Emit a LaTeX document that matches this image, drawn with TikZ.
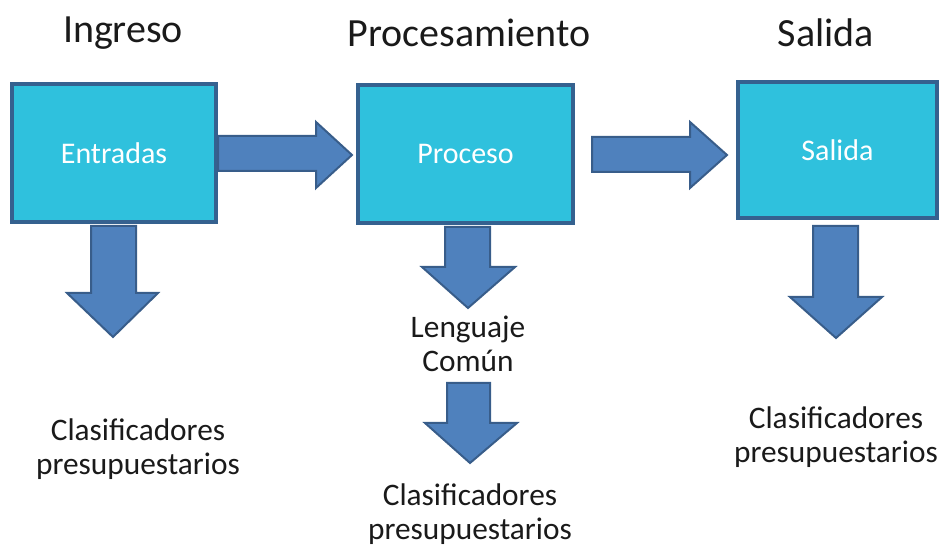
\documentclass[tikz,border=0pt]{standalone}
\usepackage{fontspec}
\setmainfont{Carlito}
\definecolor{boxfill}{HTML}{2FC1DD}
\definecolor{boxline}{HTML}{35618F}
\definecolor{arrfill}{HTML}{4F81BD}
\definecolor{arrline}{HTML}{385D8A}
\definecolor{txt}{HTML}{1A1A1A}
\tikzset{
  procbox/.style={draw=boxline, line width=2.4pt, fill=boxfill, text=white,
    font=\fontsize{22.5}{27}\selectfont, inner sep=0pt, anchor=center},
  blockarrow/.style={draw=arrline, line width=1.5pt, fill=arrfill, line join=miter},
  title/.style={font=\fontsize{30}{36}\selectfont, text=txt, anchor=center},
  label/.style={font=\fontsize{23.5}{25}\selectfont, text=txt, align=center, anchor=center}
}
\begin{document}
\begin{tikzpicture}[x=0.75pt, y=-0.75pt]
\useasboundingbox (0,0) rectangle (940,548);
% titles
\node[title] (t1) at (123,33) {Ingreso};
\node[title] (t2) at (469,33) {Procesamiento};
\node[title] (t3) at (826,33) {Salida};
% boxes
\node[procbox, minimum width=204*0.75pt, minimum height=138*0.75pt] (entradas) at (114,153) {Entradas};
\node[procbox, minimum width=215*0.75pt, minimum height=138*0.75pt] (proceso) at (465.5,154) {Proceso};
\node[procbox, minimum width=199*0.75pt, minimum height=136*0.75pt] (salida) at (837.5,150) {Salida};
% right arrows
\draw[blockarrow] (218,136) -- (316,136) -- (316,122) -- (352,155) -- (316,188) -- (316,171) -- (218,171) -- cycle;
\draw[blockarrow] (592,137) -- (690,137) -- (690,122) -- (727,155) -- (690,188) -- (690,172) -- (592,172) -- cycle;
% down arrows
\draw[blockarrow] (91,226) -- (136,226) -- (136,293) -- (158,293) -- (113,337) -- (67,293) -- (91,293) -- cycle;
\draw[blockarrow] (445,227) -- (490,227) -- (490,267) -- (515,267) -- (468,308) -- (422,267) -- (445,267) -- cycle;
\draw[blockarrow] (813,226) -- (858,226) -- (858,297) -- (882,297) -- (836,338) -- (790,297) -- (813,297) -- cycle;
\draw[blockarrow] (447,383) -- (490,383) -- (490,423) -- (517,423) -- (470,463) -- (425,423) -- (447,423) -- cycle;
% labels
\node[label] (lc) at (468,344) {Lenguaje\\Común};
\node[label] (c1) at (138,449) {Clasificadores\\presupuestarios};
\node[label] (c2) at (470,514) {Clasificadores\\presupuestarios};
\node[label] (c3) at (836,437) {Clasificadores\\presupuestarios};
\end{tikzpicture}
\end{document}
